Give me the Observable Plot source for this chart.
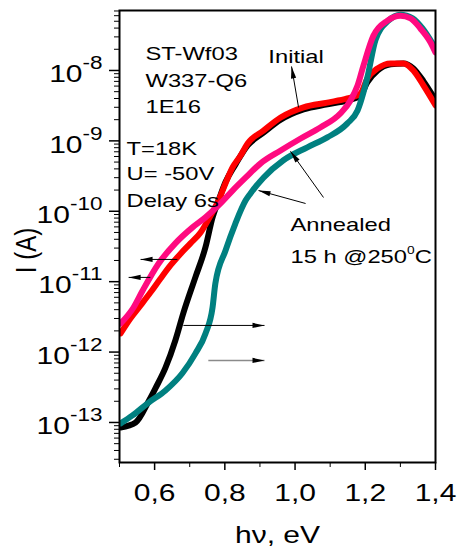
<!DOCTYPE html>
<html>
<head>
<meta charset="utf-8">
<script src="https://cdn.jsdelivr.net/npm/d3@7"></script>
<script src="https://cdn.jsdelivr.net/npm/@observablehq/plot@0.6"></script>
<style>
  html, body { margin: 0; padding: 0; background: #fff; }
</style>
</head>
<body>
<div id="chart"></div>
<script>
// ---- data (photon energy hν in eV, current I in A) ----
const blackX = [0.503, 0.546, 0.583, 0.603, 0.631, 0.659, 0.682, 0.716, 0.745, 0.765, 0.782, 0.802, 0.830, 0.865, 0.910, 0.959, 1.024, 1.092, 1.149, 1.186, 1.206, 1.235, 1.272, 1.309, 1.337, 1.366, 1.400];
const blackI = [8.5e-14, 1.0e-13, 2.0e-13, 3.1e-13, 6.0e-13, 1.46e-12, 3.6e-12, 1.15e-11, 3.1e-11, 8.2e-11, 1.42e-10, 2.6e-10, 4.6e-10, 8.6e-10, 1.31e-9, 2.0e-9, 2.8e-9, 3.3e-9, 3.75e-9, 4.4e-9, 6.8e-9, 1.0e-8, 1.22e-8, 1.26e-8, 1.07e-8, 7.0e-9, 3.8e-9];

const redX = [0.503, 0.531, 0.560, 0.588, 0.617, 0.645, 0.674, 0.702, 0.731, 0.759, 0.782, 0.802, 0.822, 0.845, 0.865, 0.910, 0.959, 1.024, 1.092, 1.149, 1.186, 1.206, 1.235, 1.272, 1.309, 1.337, 1.366, 1.400];
const redI = [1.84e-12, 3.0e-12, 4.6e-12, 7.0e-12, 1.11e-11, 1.7e-11, 2.5e-11, 3.5e-11, 5.0e-11, 8.6e-11, 1.42e-10, 2.5e-10, 4.2e-10, 6.2e-10, 9.2e-10, 1.4e-9, 2.15e-9, 3.0e-9, 3.5e-9, 4.0e-9, 4.7e-9, 7.7e-9, 1.07e-8, 1.26e-8, 1.26e-8, 1.0e-8, 6.1e-9, 3.2e-9];

const tealX = [0.503, 0.537, 0.583, 0.631, 0.679, 0.716, 0.745, 0.765, 0.773, 0.802, 0.830, 0.859, 0.873, 0.910, 0.967, 1.035, 1.092, 1.149, 1.178, 1.206, 1.229, 1.266, 1.300, 1.335, 1.363, 1.400];
const tealI = [9.7e-14, 1.26e-13, 1.92e-13, 2.85e-13, 5.0e-13, 9.5e-13, 1.84e-12, 4.3e-12, 9.4e-12, 2.77e-11, 6.7e-11, 1.42e-10, 1.79e-10, 3.0e-10, 5.3e-10, 8.1e-10, 1.12e-9, 1.77e-9, 2.7e-9, 8.0e-9, 2.7e-8, 5.1e-8, 6.2e-8, 5.5e-8, 3.95e-8, 2.05e-8];

const pinkX = [0.503, 0.540, 0.566, 0.611, 0.659, 0.708, 0.745, 0.782, 0.822, 0.859, 0.902, 0.959, 1.016, 1.072, 1.129, 1.158, 1.178, 1.195, 1.223, 1.263, 1.300, 1.329, 1.357, 1.386, 1.400];
const pinkI = [2.55e-12, 4.3e-12, 7.5e-12, 1.8e-11, 3.5e-11, 5.9e-11, 8.2e-11, 1.21e-10, 1.97e-10, 3.0e-10, 4.8e-10, 7.3e-10, 1.08e-9, 1.55e-9, 2.45e-9, 3.75e-9, 6.1e-9, 1.18e-8, 3.1e-8, 5.1e-8, 6.0e-8, 5.5e-8, 3.95e-8, 2.5e-8, 1.8e-8];

// ---- ticks ----
const xMajor = [0.6, 0.8, 1.0, 1.2, 1.4];
const xMinor = [0.5, 0.7, 0.9, 1.1, 1.3];
const yMajor = [1e-13, 1e-12, 1e-11, 1e-10, 1e-9, 1e-8];
const yDomain = [2.7e-14, 7.11e-8];
const yMinor = [];
for (let k = -14; k <= -8; k++) for (let m = 2; m <= 9; m++) {
  const v = m * Math.pow(10, k);
  if (v >= yDomain[0] && v <= yDomain[1]) yMinor.push(v);
}

// ---- annotations (data coordinates) ----
const notes = [
  {text: "ST-Wf03", x: 0.574, y: 1.39e-8},
  {text: "W337-Q6", x: 0.574, y: 5.83e-9},
  {text: "1E16", x: 0.574, y: 2.49e-9},
  {text: "T=18K", x: 0.520, y: 6.2e-10},
  {text: "U= -50V", x: 0.520, y: 2.74e-10},
  {text: "Delay 6s", x: 0.520, y: 1.14e-10},
  {text: "Initial", x: 0.924, y: 1.26e-8},
  {text: "Annealed", x: 0.987, y: 5.33e-11},
  {text: "15 h @250°C", x: 0.987, y: 1.87e-11}
];
const arrowsBlack = [
  {x1: 1.010, y1: 2.98e-9, x2: 0.990, y2: 1.14e-8},
  {x1: 1.081, y1: 1.57e-10, x2: 0.987, y2: 7.1e-10},
  {x1: 1.030, y1: 1.29e-10, x2: 0.896, y2: 1.97e-10},
  {x1: 0.665, y1: 2.07e-11, x2: 0.560, y2: 2.07e-11},
  {x1: 0.588, y1: 1.15e-11, x2: 0.526, y2: 1.15e-11},
  {x1: 0.682, y1: 2.39e-12, x2: 0.913, y2: 2.39e-12}
];
const arrowsGray = [
  {x1: 0.753, y1: 7.6e-13, x2: 0.913, y2: 7.6e-13}
];
const yTitle = [{text: "I (A)", x: 0.5, y: 2.77e-11}];

const toRows = (xs, ys) => xs.map((x, i) => ({x, y: ys[i]}));
const black = toRows(blackX, blackI);
const red = toRows(redX, redI);
const teal = toRows(tealX, tealI);
const pink = toRows(pinkX, pinkI);

const FONT = "'Liberation Sans', Arial, Helvetica, sans-serif";

const headSymbol = {
  draw(ctx) {
    ctx.moveTo(0, 0);
    ctx.lineTo(2.6, 12);
    ctx.lineTo(-2.6, 12);
    ctx.closePath();
  }
};

function options(extra) {
  const curve = (data, color) => Plot.line(data, {
    x: "x", y: "y", stroke: color, strokeWidth: 6, curve: "monotone-x",
    strokeLinejoin: "round", strokeLinecap: "round", clip: true
  });
  return {
    width: 459, height: 549,
    marginLeft: 119, marginRight: 24, marginTop: 10, marginBottom: 87,
    x: {domain: [0.5, 1.4]},
    y: {type: "log", domain: yDomain},
    style: {fontFamily: FONT, fontSize: "19px", background: "#fff", color: "#000"},
    marks: [
      Plot.axisY({ticks: yMinor, tickSize: 5, tickFormat: () => "", label: null}),
      Plot.axisY({ticks: yMajor, tickSize: 10, tickFormat: () => "", label: null, strokeWidth: 1.5}),
      Plot.axisY({ticks: yMajor, tickSize: 0, tickPadding: 17, dy: 4, fontSize: 24,
        tickFormat: d => "E" + Math.round(Math.log10(d)), label: null}),
      Plot.axisX({ticks: xMinor, tickSize: 5, tickFormat: () => "", label: null}),
      Plot.axisX({ticks: xMajor, tickSize: 8, tickFormat: () => "", label: null, strokeWidth: 1.5}),
      Plot.axisX({ticks: xMajor, tickSize: 0, tickPadding: 21, fontSize: 24,
        tickFormat: d => d.toFixed(1).replace(".", ","), label: null}),
      Plot.text(["hν, eV"], {frameAnchor: "bottom", dy: 80, lineAnchor: "bottom", fontSize: 24, text: d => d}),
      Plot.text(yTitle, {x: "x", y: "y", text: "text", dx: -84, rotate: -90,
        textAnchor: "middle", lineAnchor: "bottom", fontSize: 24}),
      curve(black, "#000000"),
      curve(red, "#ff0000"),
      curve(teal, "#008080"),
      curve(pink, "#ff0a80"),
      Plot.frame({strokeWidth: 2}),
      Plot.link(arrowsGray, {x1: "x1", y1: "y1", x2: "x2", y2: "y2", stroke: "#8a8a8a", strokeWidth: 1.5}),
      Plot.link(arrowsBlack, {x1: "x1", y1: "y1", x2: "x2", y2: "y2", stroke: "#000", strokeWidth: 1}),
      Plot.text(notes, {x: "x", y: "y", text: "text", textAnchor: "start", lineAnchor: "bottom", fontSize: 19, fill: "#000"}),
      ...extra
    ]
  };
}

// first pass to obtain scales for arrowhead angles
const probe = Plot.plot(options([]));
const sx = probe.scale("x"), sy = probe.scale("y");
const heads = [...arrowsBlack, ...arrowsGray].map(a => {
  const X1 = sx.apply(a.x1), Y1 = sy.apply(a.y1), X2 = sx.apply(a.x2), Y2 = sy.apply(a.y2);
  const ang = Math.atan2(Y2 - Y1, X2 - X1) * 180 / Math.PI + 90;
  return {x: a.x2, y: a.y2, r: ang};
});

const plot = Plot.plot(options([
  Plot.dot(heads, {x: "x", y: "y", rotate: "r", symbol: headSymbol, fill: "#000", stroke: "none", r: 3})
]));

// superscripts and horizontal text stretch (matching the reference's wide lettering)
const NS = "http://www.w3.org/2000/svg";
plot.querySelectorAll("text").forEach(t => {
  const s = t.textContent;
  const m = /^E(-?\d+)$/.exec(s);
  if (m) {
    t.textContent = "";
    t.appendChild(document.createTextNode("10"));
    const sup = document.createElementNS(NS, "tspan");
    sup.setAttribute("dy", "-13");
    sup.setAttribute("font-size", "18");
    sup.textContent = m[1];
    t.appendChild(sup);
  } else if (s.includes("°")) {
    const [a, b] = s.split("°");
    t.textContent = "";
    t.appendChild(document.createTextNode(a));
    const sup = document.createElementNS(NS, "tspan");
    sup.setAttribute("dy", "-9");
    sup.setAttribute("font-size", "11");
    sup.textContent = "0";
    t.appendChild(sup);
    const rest = document.createElementNS(NS, "tspan");
    rest.setAttribute("dy", "9");
    rest.textContent = b;
    t.appendChild(rest);
  }
  const tr = t.getAttribute("transform") || "";
  const mm = /^(translate\([^)]*\))(.*)$/.exec(tr);
  if (mm) t.setAttribute("transform", `${mm[1]} scale(1.25,1)${mm[2]}`);
});

document.getElementById("chart").appendChild(plot);
</script>
</body>
</html>
